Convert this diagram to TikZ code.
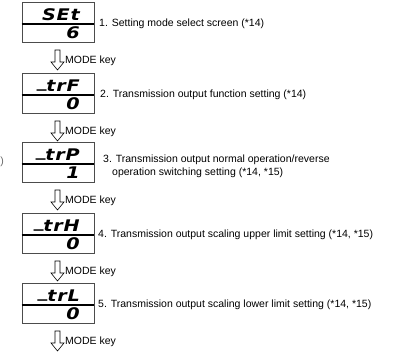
\documentclass[tikz,border=0pt]{standalone}
\usepackage{fontspec}
\setmainfont{Liberation Sans}
\newfontfamily\segfont[FakeStretch=1.2,LetterSpace=5]{DejaVu Sans}
\newcommand{\segbar}{\raisebox{0.2em}{\_}}
\tikzset{
  display/.style={
    draw=black!70,
    line width=0.7pt,
    minimum width=72pt,
    minimum height=40pt,
    inner sep=0pt
  },
  segment/.style={
    font={\segfont\bfseries\itshape\fontsize{16}{16}\selectfont},
    inner sep=0pt,
    anchor=base east
  },
  note/.style={
    font={\fontsize{10.5}{13}\selectfont},
    inner sep=0pt,
    anchor=west,
    align=left
  },
  modearrow/.style={
    draw,
    line width=0.6pt,
    fill=white
  }
}
\begin{document}
\begin{tikzpicture}[x=1pt,y=-1pt]
  \useasboundingbox (0,0) rectangle (397,356);
  \foreach \i/\ytop/\seg/\val/\tx/\dy/\desc in {
      1/2/SEt/6/99/22/{1. Setting mode select screen (*14)},
      2/73/\segbar trF/0/100/22/{2. Transmission output function setting (*14)},
      3/142/\segbar trP/1/103/24.5/{3. Transmission output normal operation/reverse\\\hspace*{9pt}operation switching setting (*14, *15)},
      4/213/\segbar trH/0/98/22/{4. Transmission output scaling upper limit setting (*14, *15)},
      5/283/\segbar trL/0/98/22/{5. Transmission output scaling lower limit setting (*14, *15)}}{
    \node[display] (d\i) at (58,\ytop+20) {};
    \draw[line width=1.4pt] ([yshift=-2pt]d\i.west) -- ([yshift=-2pt]d\i.east);
    \node[segment] (s\i) at (80,\ytop+18) {\seg};
    \node[segment] (v\i) at (80,\ytop+36) {\val};
    \node[note] (c\i) at (\tx,\ytop+\dy) {\desc};
    \coordinate (a\i) at (57.5,\ytop+48);
    \draw[modearrow] (a\i) ++(-2.5,0) -- ++(0,12) -- ++(-4,0) -- ++(6.5,8)
      -- ++(6.5,-8) -- ++(-4,0) -- ++(0,-12) -- cycle;
    \node[note] (k\i) at (65,\ytop+59) {MODE key};
  }
  \node[note, anchor=east, text=black!60] (cut) at (4,162) {)};
\end{tikzpicture}
\end{document}
